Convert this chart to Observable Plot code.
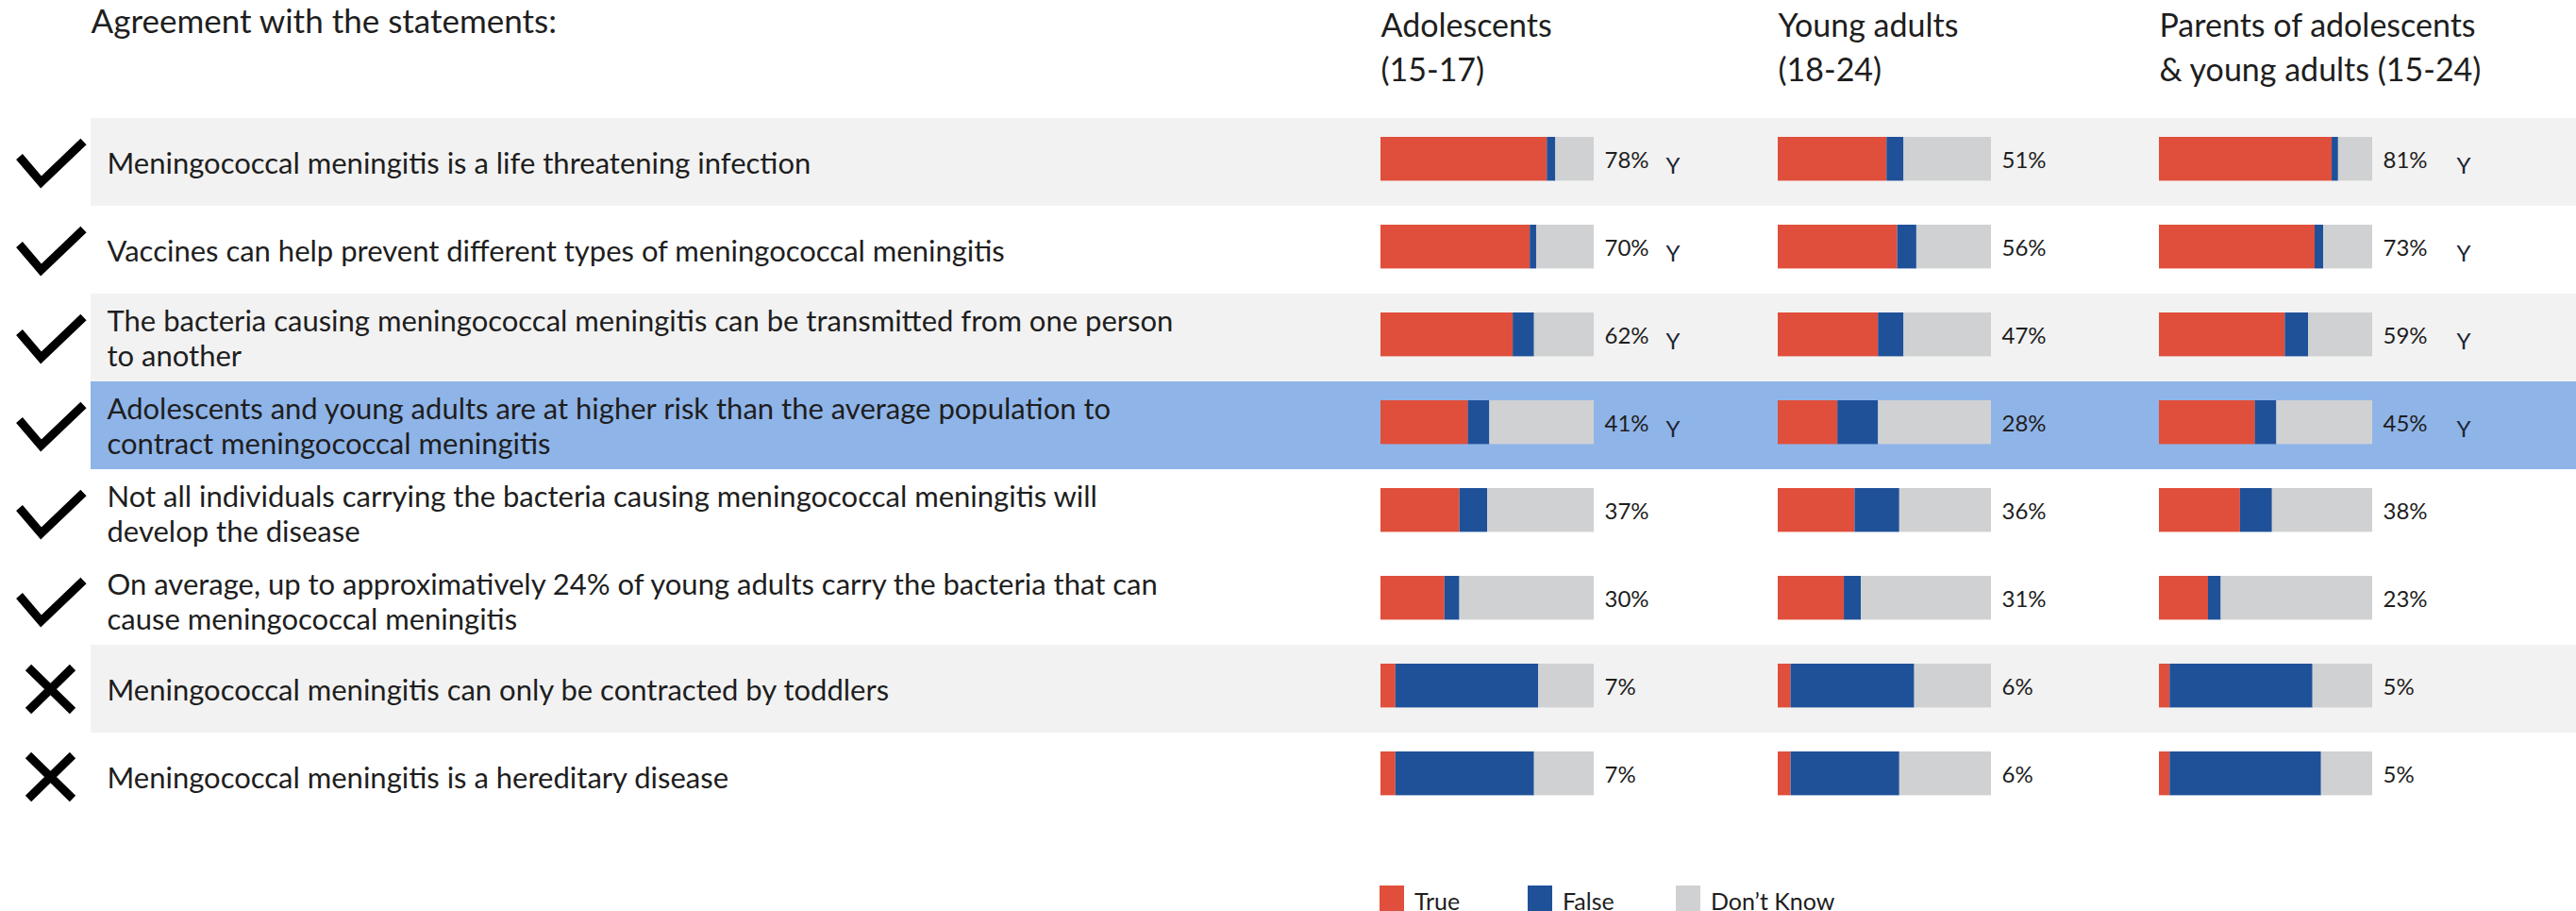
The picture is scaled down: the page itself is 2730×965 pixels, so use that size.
<!DOCTYPE html>
<html>
<head>
<meta charset="utf-8">
<script src="https://cdn.jsdelivr.net/npm/d3@7"></script>
<script src="https://cdn.jsdelivr.net/npm/@observablehq/plot@0.6"></script>
<style>
  body { margin: 0; background: #ffffff; font-family: Lato, "Open Sans", sans-serif; }
  #legend { display: flex; margin-left: 1462px; padding-top: 13px; }
  .item { display: flex; align-items: flex-start; width: 157px; font-size: 25px; color: #1e1e1e; white-space: nowrap; }
  .sw { width: 26px; height: 30px; margin-right: 11px; flex: none; }
  .lbl { padding-top: 1px; }
</style>
</head>
<body>
<div id="chart"></div>
<div id="legend"></div>
<script>
// ---------- data ----------
const title = "Agreement with the statements:";
const statements = [
  "Meningococcal meningitis is a life threatening infection",
  "Vaccines can help prevent different types of meningococcal meningitis",
  "The bacteria causing meningococcal meningitis can be transmitted from one person\nto another",
  "Adolescents and young adults are at higher risk than the average population to\ncontract meningococcal meningitis",
  "Not all individuals carrying the bacteria causing meningococcal meningitis will\ndevelop the disease",
  "On average, up to approximatively 24% of young adults carry the bacteria that can\ncause meningococcal meningitis",
  "Meningococcal meningitis can only be contracted by toddlers",
  "Meningococcal meningitis is a hereditary disease"
];
const isCorrect = [true, true, true, true, true, true, false, false];
const rowBand = ["alt", "", "alt", "focus", "", "", "alt", ""];
const groups = ["Adolescents\n(15-17)", "Young adults\n(18-24)", "Parents of adolescents\n& young adults (15-24)"];
const answers = ["True", "False", "Don’t Know"];
const scaleMax = 100;

const trueAdolescents  = [78, 70, 62, 41, 37, 30, 7, 7];
const falseAdolescents = [4, 3, 10, 10, 13, 7, 67, 65];
const flagAdolescents  = ["Y", "Y", "Y", "Y", "", "", "", ""];

const trueYoungAdults  = [51, 56, 47, 28, 36, 31, 6, 6];
const falseYoungAdults = [8, 9, 12, 19, 21, 8, 58, 51];
const flagYoungAdults  = ["", "", "", "", "", "", "", ""];

const trueParents  = [81, 73, 59, 45, 38, 23, 5, 5];
const falseParents = [3, 4, 11, 10, 15, 6, 67, 71];
const flagParents  = ["Y", "Y", "Y", "Y", "", "", "", ""];

// ---------- layout / style ----------
const colors = ["#e04f3b", "#1f5199", "#d0d1d3"];
const colOffset = [0, 421, 825];
const flagOffset = [76, 0, 89];
const textColor = "#1e1e1e";

const svgIcon = body => "data:image/svg+xml," + encodeURIComponent(
  `<svg xmlns="http://www.w3.org/2000/svg" width="80" height="64" viewBox="0 0 80 64">${body}</svg>`);
const checkIcon = svgIcon(`<path d="M7 26 L30 53 L75 10" fill="none" stroke="#000" stroke-width="9" stroke-linejoin="miter"/>`);
const crossIcon = svgIcon(`<path d="M16.5 9 L63.5 55 M63.5 9 L16.5 55" fill="none" stroke="#000" stroke-width="9"/>`);

// ---------- tables ----------
const seriesByGroup = [
  [trueAdolescents, falseAdolescents, flagAdolescents],
  [trueYoungAdults, falseYoungAdults, flagYoungAdults],
  [trueParents, falseParents, flagParents]
];
const rowsMeta = statements.map((s, i) => ({statement: s, correct: isCorrect[i], band: rowBand[i]}));
const rows = [];
const labels = [];
seriesByGroup.forEach(([t, f, flag], gi) => {
  statements.forEach((s, i) => {
    rows.push({group: gi, statement: s, answer: answers[0], value: t[i]});
    rows.push({group: gi, statement: s, answer: answers[1], value: f[i]});
    rows.push({group: gi, statement: s, answer: answers[2], value: scaleMax - t[i] - f[i]});
    labels.push({group: gi, statement: s, pct: t[i] + "%", flag: flag[i]});
  });
});

const marks = [
  Plot.cell(rowsMeta.filter(d => d.band === "alt"), {y: "statement", fill: "#f2f2f2"}),
  Plot.cell(rowsMeta.filter(d => d.band === "focus"), {y: "statement", fill: "#8fb4e8"}),
  Plot.text([title], {frameAnchor: "top-left", textAnchor: "start", lineAnchor: "top", dy: 10, fontSize: 35, fill: textColor}),
  Plot.text(rowsMeta, {y: "statement", text: "statement", frameAnchor: "left", textAnchor: "start", lineAnchor: "middle", dx: 17, fontSize: 31, lineHeight: 1.17, fill: textColor}),
  Plot.image(rowsMeta, {y: "statement", src: d => d.correct ? checkIcon : crossIcon, frameAnchor: "left", dx: -43, width: 80, height: 64})
];
groups.forEach((g, gi) => {
  marks.push(
    Plot.text([g], {x: 0, frameAnchor: "top", text: d => d, textAnchor: "start", lineAnchor: "top", dx: colOffset[gi], dy: 5, fontSize: 34, lineHeight: 1.38, fill: textColor}),
    Plot.barX(rows.filter(d => d.group === gi), Plot.stackX({x: "value", y: "statement", fill: "answer", dx: colOffset[gi], insetTop: 20, insetBottom: 26.6})),
    Plot.text(labels.filter(d => d.group === gi), {x: scaleMax, y: "statement", text: "pct", textAnchor: "start", dx: colOffset[gi] + 11, dy: -2, fontSize: 24, fill: textColor}),
    Plot.text(labels.filter(d => d.group === gi && d.flag), {x: scaleMax, y: "statement", text: "flag", textAnchor: "start", dx: colOffset[gi] + flagOffset[gi], dy: 4, fontSize: 24, fill: "#1c2536"})
  );
});

const chart = Plot.plot({
  width: 2730,
  height: 925,
  marginLeft: 96,
  marginRight: 0,
  marginTop: 0,
  marginBottom: 0,
  x: {domain: [0, scaleMax], range: [1463, 1689], axis: null},
  y: {domain: statements, range: [122, 871], padding: 0, axis: null},
  color: {domain: answers, range: colors},
  style: {fontFamily: "Lato, 'Open Sans', sans-serif", background: "transparent", color: textColor},
  marks
});
document.getElementById("chart").appendChild(chart);

const legend = document.getElementById("legend");
answers.forEach((a, i) => {
  const item = document.createElement("div");
  item.className = "item";
  const sw = document.createElement("div");
  sw.className = "sw";
  sw.style.background = colors[i];
  const lbl = document.createElement("span");
  lbl.className = "lbl";
  lbl.textContent = a;
  item.appendChild(sw);
  item.appendChild(lbl);
  legend.appendChild(item);
});
</script>
</body>
</html>
